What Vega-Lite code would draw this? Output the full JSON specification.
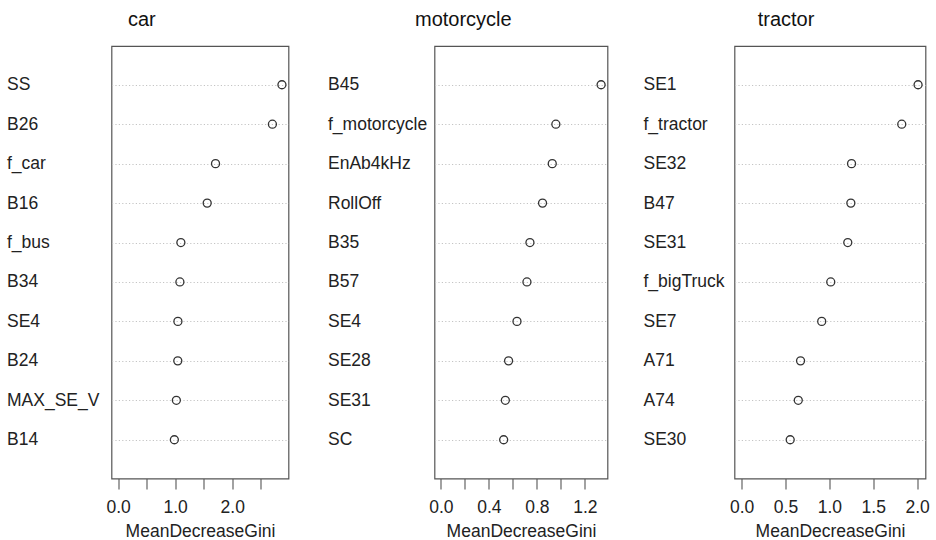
{
  "$schema": "https://vega.github.io/schema/vega-lite/v6.json",
  "background": "white",
  "padding": {"left": 5.5, "top": 9, "right": 5, "bottom": 0},
  "config": {
    "font": "Liberation Sans",
    "view": {"stroke": "#555", "strokeWidth": 1.2},
    "axis": {"labelFont": "Liberation Sans", "titleFont": "Liberation Sans", "labelFontSize": 17.5, "titleFontSize": 17.5, "labelColor": "#222", "titleColor": "#222", "titleFontWeight": "normal"},
    "axisX": {"grid": false, "domain": false, "tickSize": 10.5, "tickColor": "#555", "tickWidth": 1.1, "labelPadding": 9, "titleY": 58, "titleBaseline": "alphabetic", "labelFlush": false, "labelOverlap": false},
    "axisY": {"title": null, "labelAlign": "left", "labelBaseline": "middle", "ticks": false, "tickSize": 0, "domain": false, "grid": true, "gridDash": [1.2, 2.2], "gridColor": "#c4c4c4", "gridWidth": 1},
    "title": {"fontSize": 20, "fontWeight": "normal", "color": "#111", "anchor": "start", "frame": "group", "baseline": "alphabetic", "offset": 16, "font": "Liberation Sans"},
    "point": {"shape": "circle", "filled": false, "size": 64, "stroke": "#333", "strokeWidth": 1.3, "opacity": 1}
  },
  "spacing": 146,
  "bounds": "flush",
  "hconcat": [
    {
      "width": 177,
      "height": 432.5,
      "title": {"text": "car", "dx": 16.5},
      "data": {"values": [
        {"variable": "SS", "MeanDecreaseGini": 2.87},
        {"variable": "B26", "MeanDecreaseGini": 2.703},
        {"variable": "f_car", "MeanDecreaseGini": 1.707},
        {"variable": "B16", "MeanDecreaseGini": 1.561},
        {"variable": "f_bus", "MeanDecreaseGini": 1.1},
        {"variable": "B34", "MeanDecreaseGini": 1.083},
        {"variable": "SE4", "MeanDecreaseGini": 1.048},
        {"variable": "B24", "MeanDecreaseGini": 1.046},
        {"variable": "MAX_SE_V", "MeanDecreaseGini": 1.021},
        {"variable": "B14", "MeanDecreaseGini": 0.986}
      ]},
      "mark": {"type": "point"},
      "encoding": {
        "y": {"field": "variable", "type": "nominal", "sort": null, "scale": {"type": "point", "padding": 0.983}, "axis": {"labelPadding": 105}},
        "x": {"field": "MeanDecreaseGini", "type": "quantitative", "scale": {"domain": [-0.1148, 2.9848], "nice": false, "zero": false},
          "axis": {"title": "MeanDecreaseGini", "values": [0, 0.5, 1, 1.5, 2, 2.5], "labelExpr": "datum.value % 1 === 0 ? format(datum.value, '.1f') : ''"}}
      }
    },
    {
      "spacing": 127,
      "bounds": "flush",
      "hconcat": [
        {
          "width": 173,
          "height": 432.5,
          "title": {"text": "motorcycle", "dx": -19.5},
          "data": {"values": [
            {"variable": "B45", "MeanDecreaseGini": 1.335},
            {"variable": "f_motorcycle", "MeanDecreaseGini": 0.958},
            {"variable": "EnAb4kHz", "MeanDecreaseGini": 0.928},
            {"variable": "RollOff", "MeanDecreaseGini": 0.847},
            {"variable": "B35", "MeanDecreaseGini": 0.742},
            {"variable": "B57", "MeanDecreaseGini": 0.717},
            {"variable": "SE4", "MeanDecreaseGini": 0.634},
            {"variable": "SE28", "MeanDecreaseGini": 0.564},
            {"variable": "SE31", "MeanDecreaseGini": 0.537},
            {"variable": "SC", "MeanDecreaseGini": 0.523}
          ]},
          "mark": {"type": "point"},
          "encoding": {
            "y": {"field": "variable", "type": "nominal", "sort": null, "scale": {"type": "point", "padding": 0.983}, "axis": {"labelPadding": 107}},
            "x": {"field": "MeanDecreaseGini", "type": "quantitative", "scale": {"domain": [-0.0534, 1.3884], "nice": false, "zero": false},
              "axis": {"title": "MeanDecreaseGini", "values": [0, 0.2, 0.4, 0.6, 0.8, 1.0, 1.2], "labelExpr": "(datum.value === 0 || datum.value === 0.4 || datum.value === 0.8 || datum.value === 1.2) ? format(datum.value, '.1f') : ''"}}
          }
        },
        {
          "width": 191,
          "height": 432.5,
          "title": {"text": "tractor", "dx": 23.2},
          "data": {"values": [
            {"variable": "SE1", "MeanDecreaseGini": 2.011},
            {"variable": "f_tractor", "MeanDecreaseGini": 1.825},
            {"variable": "SE32", "MeanDecreaseGini": 1.253},
            {"variable": "B47", "MeanDecreaseGini": 1.245},
            {"variable": "SE31", "MeanDecreaseGini": 1.21},
            {"variable": "f_bigTruck", "MeanDecreaseGini": 1.016},
            {"variable": "SE7", "MeanDecreaseGini": 0.913},
            {"variable": "A71", "MeanDecreaseGini": 0.672},
            {"variable": "A74", "MeanDecreaseGini": 0.646},
            {"variable": "SE30", "MeanDecreaseGini": 0.554}
          ]},
          "mark": {"type": "point"},
          "encoding": {
            "y": {"field": "variable", "type": "nominal", "sort": null, "scale": {"type": "point", "padding": 0.983}, "axis": {"labelPadding": 91.5}},
            "x": {"field": "MeanDecreaseGini", "type": "quantitative", "scale": {"domain": [-0.0806, 2.0956], "nice": false, "zero": false},
              "axis": {"title": "MeanDecreaseGini", "values": [0, 0.5, 1, 1.5, 2], "format": ".1f"}}
          }
        }
      ]
    }
  ]
}
